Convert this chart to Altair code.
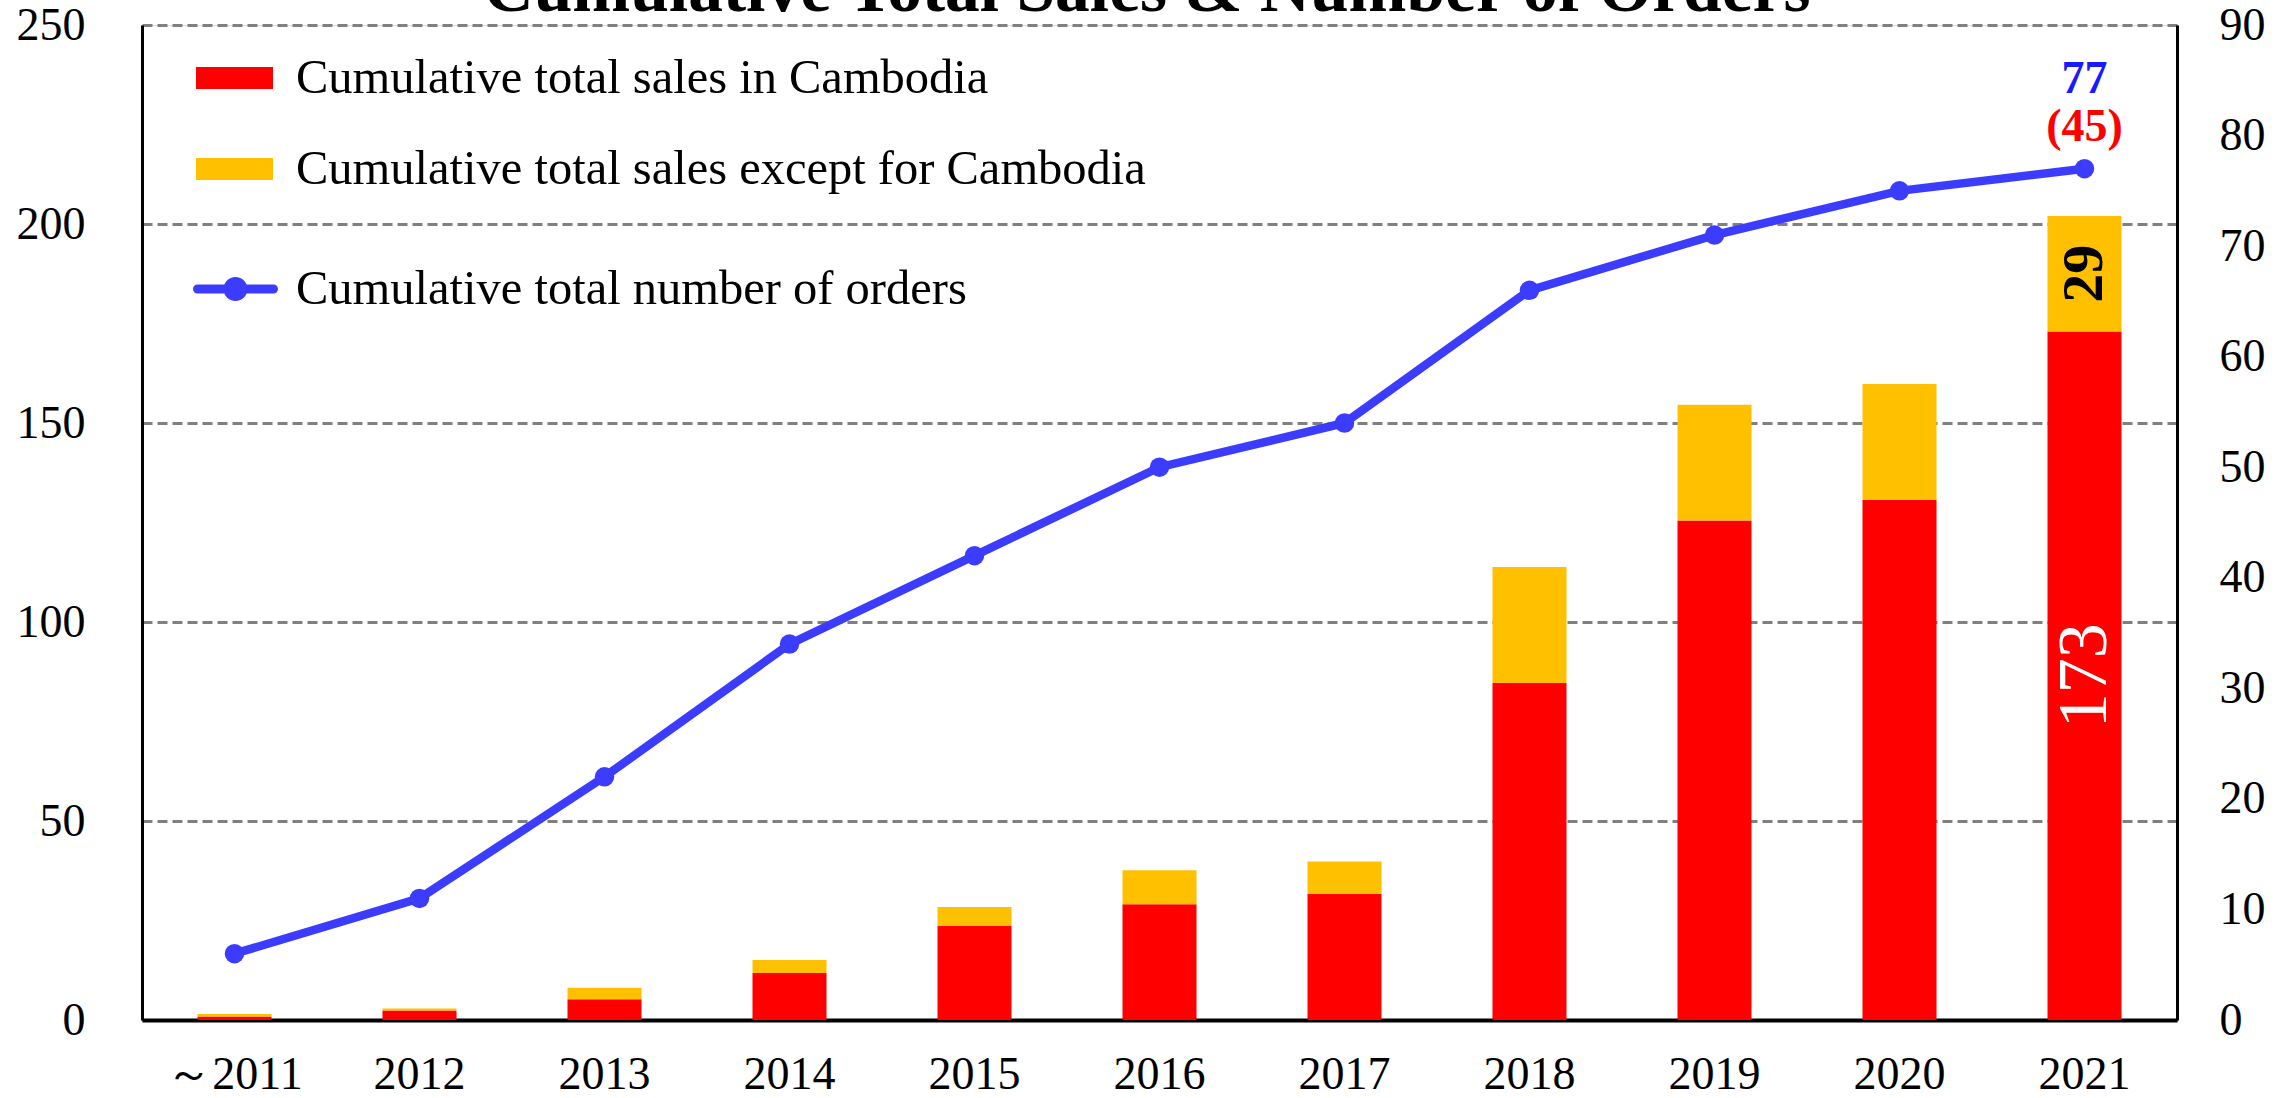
import altair as alt
import pandas as pd

# ---------------- data ----------------
years = ["～2011", "2012", "2013", "2014", "2015", "2016", "2017", "2018", "2019", "2020", "2021"]
sales_cambodia = [0.9, 2.4, 5.2, 11.8, 23.6, 29.1, 31.7, 84.7, 125.5, 130.7, 173]
sales_total = [1.5, 2.9, 8.1, 15.1, 28.4, 37.6, 39.8, 113.8, 154.6, 159.8, 202]
orders_total = [6, 11, 22, 34, 42, 50, 54, 66, 71, 75, 77]
orders_cambodia_last = 45

series_names = ["Cumulative total sales in Cambodia", "Cumulative total sales except for Cambodia"]
series_colors = ["#ff0000", "#ffc000"]
line_name = "Cumulative total number of orders"
line_color = "#3c3cff"
title_text = "Cumulative Total Sales & Number of Orders"

FONT = "Liberation Serif"

sales_except = [round(t - c, 1) for t, c in zip(sales_total, sales_cambodia)]

rows = []
for y, c, e in zip(years, sales_cambodia, sales_except):
    rows.append({"year": y, "series": series_names[0], "value": c, "ord": 0})
    rows.append({"year": y, "series": series_names[1], "value": e, "ord": 1})
bars_df = pd.DataFrame(rows)

last = years[-1]
lab_cam_df = pd.DataFrame([{"year": last, "mid": sales_cambodia[-1] / 2, "txt": f"{sales_cambodia[-1]:g}"}])
lab_exc_df = pd.DataFrame([{"year": last, "mid": sales_cambodia[-1] + sales_except[-1] / 2,
                            "txt": f"{sales_except[-1]:g}"}])

orders_df = pd.DataFrame({"year": years, "orders": orders_total, "series": line_name})
top_df = pd.DataFrame([{"year": last, "orders": orders_total[-1],
                        "t1": f"{orders_total[-1]}", "t2": f"({orders_cambodia_last})"}])
title_df = pd.DataFrame([{"t": title_text}])

# ---------------- encodings ----------------
x_enc = alt.X(
    "year:N",
    scale=alt.Scale(domain=years, paddingInner=0.6, paddingOuter=0.3),
    axis=alt.Axis(title=None, labelAngle=0, ticks=False, labelPadding=32, labelFontSize=46,
                  labelFont=FONT, labelColor="black", domainColor="black", domainWidth=4,
                  grid=False, labelOverlap=False),
)

left_scale = alt.Scale(domain=[0, 250], nice=False, zero=True)
left_axis = alt.Axis(title=None, orient="left", values=[0, 50, 100, 150, 200, 250], ticks=False,
                     labelPadding=57, labelFontSize=46, labelFont=FONT, labelColor="black",
                     domainColor="black", domainWidth=3, grid=True, gridColor="#808080",
                     gridDash=[10, 5], gridWidth=3, labelOverlap=False)

right_scale = alt.Scale(domain=[0, 90], nice=False, zero=True)
right_axis = alt.Axis(title=None, orient="right", values=list(range(0, 100, 10)), ticks=False,
                      labelPadding=42, labelFontSize=46, labelFont=FONT, labelColor="black",
                      domainColor="black", domainWidth=3, grid=False, labelOverlap=False)

legend_common = dict(title=None, orient="none", direction="vertical", symbolStrokeWidth=0,
                     labelFont=FONT, labelFontSize=48.5, labelColor="black", padding=0,
                     labelLimit=1500, rowPadding=28)

bars = alt.Chart(bars_df).mark_bar().encode(
    x=x_enc,
    y=alt.Y("value:Q", stack="zero", scale=left_scale, axis=left_axis),
    color=alt.Color("series:N",
                    scale=alt.Scale(domain=series_names, range=series_colors),
                    legend=alt.Legend(legendX=54, legendY=14.5,
                                      symbolType="M-1,-0.286H1V0.286H-1Z",
                                      symbolSize=5929, labelOffset=23, **legend_common)),
    order=alt.Order("ord:Q", sort="ascending"),
)

txt_cam = alt.Chart(lab_cam_df).mark_text(
    font=FONT, fontSize=70, color="white", angle=270, align="center", baseline="middle"
).encode(x=x_enc, y=alt.Y("mid:Q", scale=left_scale, axis=left_axis), text="txt:N")

txt_exc = alt.Chart(lab_exc_df).mark_text(
    font=FONT, fontSize=58, fontWeight="bold", color="black", angle=270, align="center",
    baseline="middle"
).encode(x=x_enc, y=alt.Y("mid:Q", scale=left_scale, axis=left_axis), text="txt:N")

left = alt.layer(bars, txt_cam, txt_exc)

y_right = alt.Y("orders:Q", scale=right_scale, axis=right_axis)

line = alt.Chart(orders_df).mark_line(color=line_color, strokeWidth=8.5).encode(x=x_enc, y=y_right)

line_symbol = ("M-0.894,-0.106H0.894A0.106,0.106 0 0 1 0.894,0.106H-0.894"
               "A0.106,0.106 0 0 1 -0.894,-0.106Z"
               "M0.282,0A0.282,0.282 0 1 1 -0.282,0A0.282,0.282 0 1 1 0.282,0Z")

points = alt.Chart(orders_df).mark_circle(size=380, opacity=1).encode(
    x=x_enc, y=y_right,
    color=alt.Color("series:N",
                    scale=alt.Scale(domain=[line_name], range=[line_color]),
                    legend=alt.Legend(legendX=51, legendY=221.5, symbolType=line_symbol,
                                      symbolSize=7225, labelOffset=18, **legend_common)),
)

t77 = alt.Chart(top_df).mark_text(
    font=FONT, fontSize=46, fontWeight="bold", color="#1a1aff", dy=-90, align="center",
    baseline="middle"
).encode(x=x_enc, y=y_right, text="t1:N")

t45 = alt.Chart(top_df).mark_text(
    font=FONT, fontSize=46, fontWeight="bold", color="#ff0000", dy=-42, align="center",
    baseline="middle"
).encode(x=x_enc, y=y_right, text="t2:N")

right = alt.layer(line, points, t77, t45)

# chart title, partly cut by the top edge as in the reference
title_mark = alt.Chart(title_df).mark_text(
    font=FONT, fontSize=69.5, fontWeight="bold", color="black", align="center",
    baseline="alphabetic"
).encode(text="t:N", x=alt.value(1005), y=alt.value(-14))

chart = alt.layer(left, right, title_mark).resolve_scale(
    y="independent", color="independent"
).properties(
    width=2035,
    height=995,
    autosize=alt.AutoSizeParams(type="none"),
    padding={"left": 142, "top": 25, "right": 118, "bottom": 78},
).configure_view(stroke="black", strokeWidth=3).configure(background="white")

chart.save("out.html", embed_options={"renderer": "svg", "actions": False})
